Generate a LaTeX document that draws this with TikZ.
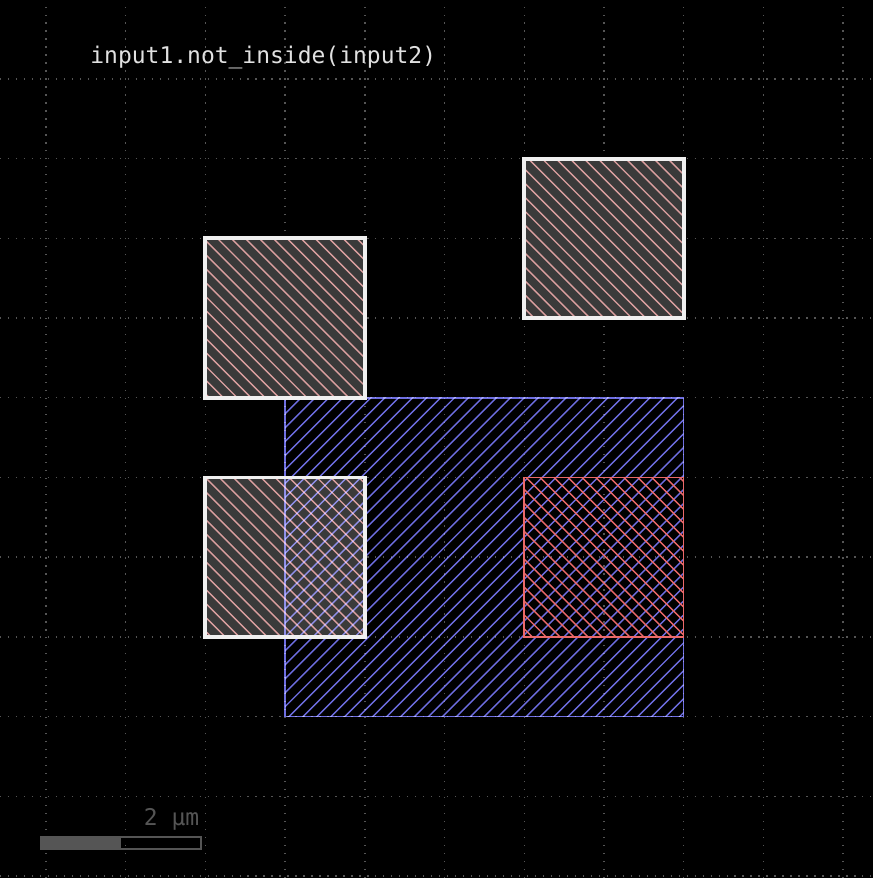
\documentclass[tikz,border=0pt]{standalone}
\usepackage{fontspec}
\newfontfamily\layoutmono{DejaVu Sans Mono}
\definecolor{gridgray}{RGB}{85,85,85}
\definecolor{shapegray}{RGB}{58,58,58}
\definecolor{hatchpink}{RGB}{220,160,160}
\definecolor{layerblue}{RGB}{110,110,225}
\definecolor{layerred}{RGB}{235,105,105}
\definecolor{edgewhite}{RGB}{240,240,240}
\definecolor{labelgray}{RGB}{225,225,225}
\definecolor{scalegray}{RGB}{85,85,85}

% hatching inside a rectangle: \backhatch{style}{(a) rectangle (b)}
\newcommand{\backhatch}[2]{%
  \begin{scope}
    \clip #2;
    \foreach \k in {0,...,115}
      \draw[#1] ({\k*0.175-12},12) -- ({\k*0.175+1},-1);
  \end{scope}}
\newcommand{\forehatch}[2]{%
  \begin{scope}
    \clip #2;
    \foreach \k in {-20,...,40}
      \draw[#1] ({\k*0.175-1},-1) -- ({\k*0.175+12},12);
  \end{scope}}

\begin{document}
\begin{tikzpicture}[
  x=1cm, y=1cm,
  grid line/.style={gridgray, line width=0.5pt, dash pattern=on 0.45pt off 2.4pt},
  pink hatch/.style={hatchpink, line width=0.5pt},
  blue hatch/.style={layerblue, line width=0.5pt},
  red hatch/.style={layerred, line width=0.5pt},
  outline/.style={draw=edgewhite, line width=1.4pt},
  label text/.style={inner sep=0pt, font=\layoutmono\fontsize{8.2}{10}\selectfont}
]
% page and background
\useasboundingbox (-0.577,-0.025) rectangle (10.376,10.991);
\fill[black] (-0.577,-0.025) rectangle (10.376,10.991);

% dotted grid, 1 um
\foreach \gx in {0,...,10}
  \draw[grid line] (\gx,-0.025) -- (\gx,10.991);
\foreach \gy in {0,...,10}
  \draw[grid line] (-0.577,\gy) -- (10.376,\gy);

% input1
\foreach \sx/\sy in {2/6, 6/7, 2/3} {
  \fill[shapegray] (\sx,\sy) rectangle ++(2,2);
  \backhatch{pink hatch}{(\sx,\sy) rectangle ++(2,2)}
}

% input2
\begin{scope}[blend mode=screen]
  \forehatch{blue hatch}{(3,2) rectangle (8,6)}
  \draw[layerblue, line width=0.6pt] (3,2) rectangle (8,6);
\end{scope}

% result
\backhatch{red hatch}{(6,3) rectangle (8,5)}
\draw[layerred, line width=0.6pt] (6,3) rectangle (8,5);

% input1 edges on top
\draw[outline] (2,6) rectangle (4,8);
\draw[outline] (6,7) rectangle (8,9);
\draw[outline] (2,3) rectangle (4,5);

% labels
\node[label text, labelgray, anchor=base west] (title) at (0.55,10.19) {input1.not\_inside(input2)};
\node[label text, scalegray, anchor=base east] (scalelabel) at (1.93,0.63) {2 µm};

% scale bar
\fill[scalegray] (-0.063,0.339) rectangle (0.94,0.489);
\draw[scalegray, line width=0.6pt] (-0.063,0.339) rectangle (1.945,0.489);
\end{tikzpicture}
\end{document}
